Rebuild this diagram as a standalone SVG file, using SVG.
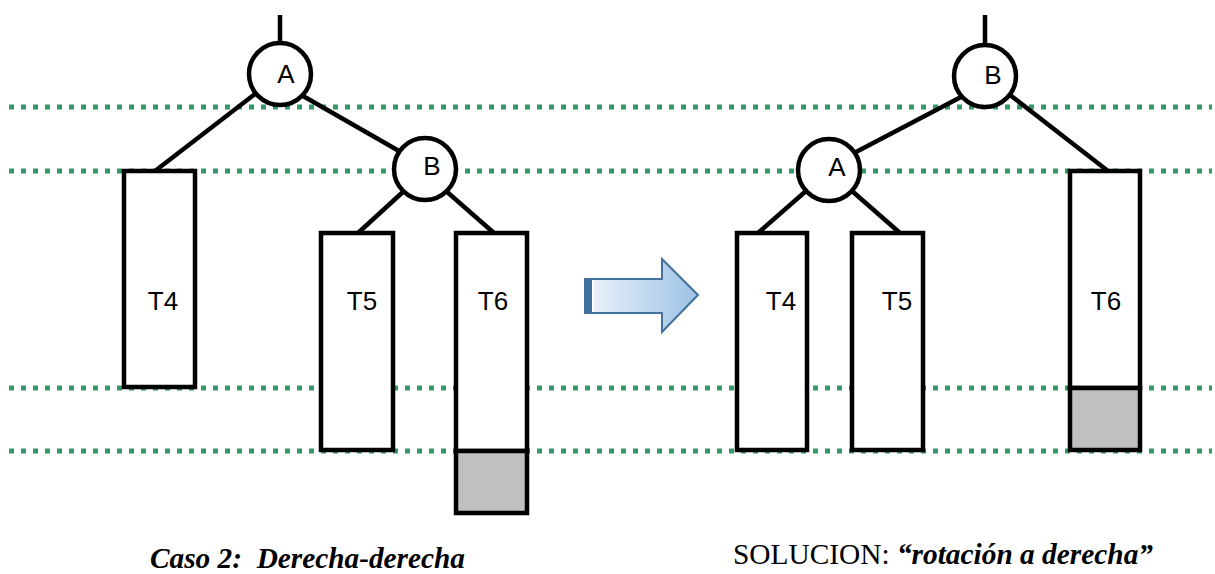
<svg xmlns="http://www.w3.org/2000/svg" width="1215" height="574" viewBox="0 0 1215 574">
<defs>
<linearGradient id="ag" x1="0" y1="0" x2="1" y2="0">
<stop offset="0" stop-color="#eef4fb"/>
<stop offset="1" stop-color="#9cc2e5"/>
</linearGradient>
<style>
.dot{stroke:#339966;stroke-width:5;stroke-dasharray:5 7;fill:none}
.ln{stroke:#000;stroke-width:4.5;fill:none}
.nd{stroke:#000;stroke-width:4.5;fill:#fff}
.bx{stroke:#000;stroke-width:4.5;fill:#fff}
.gr{stroke:#000;stroke-width:4.5;fill:#c0c0c0}
.lb{font-family:"Liberation Sans",Arial,sans-serif;font-size:26px;fill:#000}
.cap{font-family:"Liberation Serif","Times New Roman",serif;font-size:29px;fill:#000}
</style>
</defs>
<rect width="1215" height="574" fill="#fff"/>
<g id="guides">
<line class="dot" x1="9" y1="107" x2="1212" y2="107"/>
<line class="dot" x1="9" y1="171" x2="1212" y2="171"/>
<line class="dot" x1="9" y1="388" x2="1212" y2="388"/>
<line class="dot" x1="9" y1="451" x2="1212" y2="451"/>
</g>
<g id="connectors">
<line class="ln" x1="280" y1="15" x2="280" y2="43"/>
<line class="ln" x1="255" y1="94" x2="155" y2="171"/>
<line class="ln" x1="303" y1="96" x2="399" y2="151"/>
<line class="ln" x1="404" y1="191" x2="358" y2="233"/>
<line class="ln" x1="446" y1="191" x2="494" y2="233"/>
<line class="ln" x1="985" y1="15" x2="985" y2="44"/>
<line class="ln" x1="961" y1="97" x2="856" y2="152"/>
<line class="ln" x1="1010" y1="95" x2="1108" y2="171"/>
<line class="ln" x1="806" y1="191" x2="758" y2="233"/>
<line class="ln" x1="852" y1="191" x2="900" y2="233"/>
</g>
<g id="left-T4"><rect class="bx" x="124" y="171" width="71" height="216"/><text class="lb" x="163" y="310" text-anchor="middle">T4</text></g>
<g id="left-T5"><rect class="bx" x="321" y="233" width="72" height="217"/><text class="lb" x="362" y="310" text-anchor="middle">T5</text></g>
<g id="left-T6"><rect class="bx" x="456" y="233" width="71" height="218"/><rect class="gr" x="456" y="451" width="71" height="62"/><text class="lb" x="493" y="310" text-anchor="middle">T6</text></g>
<g id="left-A"><circle class="nd" cx="280" cy="74" r="31"/><text class="lb" x="286" y="83" text-anchor="middle">A</text></g>
<g id="left-B"><circle class="nd" cx="425" cy="169" r="31"/><text class="lb" x="432" y="175" text-anchor="middle">B</text></g>
<g id="arrow">
<path d="M585,279 H662 V259 L698,295 L662,332 V313 H585 Z" fill="url(#ag)" stroke="#41719c" stroke-width="2"/>
<rect x="585" y="279" width="7" height="34" fill="#41719c"/>
<rect x="592" y="280" width="2" height="32" fill="#fff"/>
</g>
<g id="right-T4"><rect class="bx" x="737" y="233" width="70" height="217"/><text class="lb" x="781" y="310" text-anchor="middle">T4</text></g>
<g id="right-T5"><rect class="bx" x="852" y="233" width="71" height="217"/><text class="lb" x="897" y="310" text-anchor="middle">T5</text></g>
<g id="right-T6"><rect class="bx" x="1070" y="171" width="70" height="217"/><rect class="gr" x="1070" y="388" width="70" height="62"/><text class="lb" x="1106" y="310" text-anchor="middle">T6</text></g>
<g id="right-B"><circle class="nd" cx="985" cy="76" r="31"/><text class="lb" x="993" y="84" text-anchor="middle">B</text></g>
<g id="right-A"><circle class="nd" cx="829" cy="170" r="31"/><text class="lb" x="837" y="176" text-anchor="middle">A</text></g>
<g id="captions">
<text class="cap" x="150" y="568" font-weight="bold" font-style="italic" xml:space="preserve" textLength="315" lengthAdjust="spacingAndGlyphs">Caso 2:  Derecha-derecha</text>
<text class="cap" x="733" y="564" textLength="420" lengthAdjust="spacingAndGlyphs">SOLUCION: <tspan font-weight="bold" font-style="italic">“rotación a derecha”</tspan></text>
</g>
</svg>
